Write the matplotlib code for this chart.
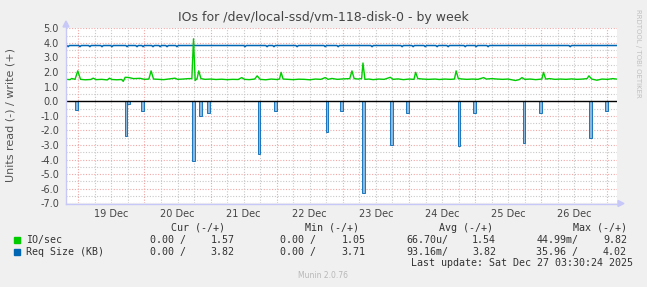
import matplotlib
matplotlib.use('Agg')
import matplotlib.pyplot as plt
from matplotlib.lines import Line2D
from matplotlib.patches import Rectangle, Polygon

# ---------------- data (hours from 19 Dec 00:00) ----------------
day_labels = ["19 Dec", "20 Dec", "21 Dec", "22 Dec", "23 Dec", "24 Dec", "25 Dec", "26 Dec"]

# IO/sec write (+)
io_write_h = [-4.4, -3.0, -2.4, -1.2, -0.2, 0.8, 2.5, 4.5, 5.4, 6.5, 8.5, 10.5, 11.3, 12.2, 14.0,
              15.7, 16.3, 17.0, 18.2, 20.0, 22.4, 24.0, 25.6, 26.4, 27.3, 29.0, 31.0, 33.0, 35.1,
              36.0, 38.0, 40.0, 41.2, 41.8, 42.4, 43.1, 43.7, 44.5, 46.0, 48.0, 50.0, 52.0, 54.0,
              56.0, 58.0, 59.3, 60.3, 62.0, 64.0, 64.9, 66.0, 68.0, 70.0, 72.0, 73.0, 73.6, 74.3,
              76.0, 78.0, 80.0, 82.0, 84.0, 86.0, 88.0, 89.6, 90.6, 92.0, 94.0, 96.0, 98.5, 99.3,
              100.1, 101.5, 102.8, 103.3, 104.0, 105.5, 107.0, 109.0, 111.0, 113.2, 114.2, 116.0,
              118.0, 120.0, 121.8, 122.4, 123.2, 125.0, 127.0, 129.5, 131.0, 133.0, 135.0, 136.5,
              137.1, 137.9, 139.5, 141.0, 143.0, 145.0, 147.1, 148.0, 150.0, 152.0, 154.0, 156.0,
              158.6, 160.0, 161.0, 162.0, 164.0, 166.0, 168.2, 168.8, 169.6, 171.0, 173.0, 175.0,
              177.0, 179.0, 181.0, 183.0, 184.6, 185.3, 186.3, 188.2, 190.0, 192.0, 194.0, 195.2]
io_write_v = [1.50, 1.48, 1.56, 1.50, 2.08, 1.50, 1.47, 1.49, 1.58, 1.48, 1.50, 1.46, 1.58, 1.49, 1.47,
              1.49, 1.36, 1.64, 1.63, 1.55, 1.57, 1.50, 1.52, 2.08, 1.52, 1.50, 1.48, 1.53, 1.58,
              1.50, 1.52, 1.55, 1.55, 4.28, 1.42, 1.55, 2.08, 1.55, 1.50, 1.52, 1.49, 1.51, 1.48,
              1.50, 1.49, 1.62, 1.50, 1.48, 1.52, 1.74, 1.50, 1.47, 1.52, 1.49, 1.52, 1.98, 1.52,
              1.50, 1.48, 1.51, 1.50, 1.47, 1.52, 1.50, 1.62, 1.50, 1.56, 1.50, 1.53, 1.55, 2.08,
              1.55, 1.52, 1.55, 2.62, 1.50, 1.52, 1.48, 1.52, 1.50, 1.64, 1.50, 1.53,
              1.48, 1.52, 1.50, 1.98, 1.55, 1.52, 1.50, 1.52, 1.49, 1.52, 1.50, 1.52,
              2.08, 1.55, 1.52, 1.50, 1.52, 1.50, 1.62, 1.52, 1.55, 1.52, 1.50, 1.52,
              1.42, 1.48, 1.62, 1.50, 1.52, 1.48, 1.52, 1.98, 1.52, 1.55, 1.50, 1.52,
              1.50, 1.53, 1.50, 1.52, 1.55, 1.74, 1.52, 1.44, 1.52, 1.50, 1.55, 1.52]

# Req Size write (+): baseline and small dips
req_write_base = 3.82
req_write_dip_h = [-3.7, 0.6, 4.2, 8.6, 12.2, 17.7, 21.3, 23.5, 27.1, 29.7, 32.2, 35.8, 60.5, 68.5,
                   71.0, 79.4, 89.6, 94.3, 106.6, 117.5, 121.5, 125.9, 130.2, 134.2, 140.4, 144.4,
                   148.7, 178.5]
req_write_dip_v = [3.74] * len(req_write_dip_h)

# Req Size read (-): spikes
req_read_h = [-0.7, 17.3, 18.2, 23.3, 41.8, 44.4, 47.3, 65.6, 71.5, 90.2, 95.5, 103.5, 113.7, 119.5,
              138.1, 143.7, 161.7, 167.7, 185.8, 191.7]
req_read_v = [-0.6, -2.4, -0.2, -0.65, -4.1, -1.0, -0.8, -3.6, -0.7, -2.1, -0.7, -6.3, -3.0, -0.8,
              -3.1, -0.8, -2.85, -0.8, -2.55, -0.7]

legend_rows = [
    ("IO/sec", "#00cc00", ["0.00 /", "1.57", "0.00 /", "1.05", "66.70u/", "1.54", "44.99m/", "9.82"]),
    ("Req Size (KB)", "#0066b3", ["0.00 /", "3.82", "0.00 /", "3.71", "93.16m/", "3.82", "35.96 /", "4.02"]),
]
headers = ["Cur (-/+)", "Min (-/+)", "Avg (-/+)", "Max (-/+)"]

# ---------------- figure ----------------
W, H = 647, 287
fig = plt.figure(figsize=(W / 100, H / 100), dpi=100)
fig.patch.set_facecolor('#f0f0f0')

L, R, T, B = 66, 616.5, 28.3, 203.3
ax = fig.add_axes([L / W, 1 - B / H, (R - L) / W, (B - T) / H])
ax.set_facecolor('white')
xmin, xmax = -4.47, 195.3
ax.set_xlim(xmin, xmax)
ax.set_ylim(-7, 5)
for s in ax.spines.values():
    s.set_visible(False)

dot = (0, (1, 1.5))
# grid
for k in range(-14, 11):
    y = k / 2
    if k % 2 == 0:
        ax.axhline(y, color='#f2a7a7', lw=0.8, ls=dot, zorder=1)
    else:
        ax.axhline(y, color='#c8c8c8', lw=0.8, ls=dot, zorder=1)
for hh in range(0, 196, 6):
    if hh % 24 == 0:
        ax.axvline(hh, color='#f2a7a7', lw=0.8, ls=dot, zorder=1)
    else:
        ax.axvline(hh, color='#c8c8c8', lw=0.8, ls=dot, zorder=1)

# read spikes (negative)
ax.bar(req_read_h, req_read_v, width=0.95, color='#8ab8de', edgecolor='#0066b3',
       linewidth=0.6, zorder=3)

# Req Size write line
bx, by = [xmin], [req_write_base]
for h, v in zip(req_write_dip_h, req_write_dip_v):
    bx += [h - 0.45, h, h + 0.45]
    by += [req_write_base, v, req_write_base]
bx.append(xmax); by.append(req_write_base)
ax.plot(bx, by, color='#0066b3', lw=1.1, zorder=4)

# IO/sec write line
ax.plot(io_write_h, io_write_v, color='#00cc00', lw=1.0, zorder=4)

# zero line
ax.axhline(0, color='black', lw=1.0, zorder=5)

ax.set_yticks(range(-7, 6))
ax.set_yticklabels([f"{v:.1f}" for v in range(-7, 6)])
ax.set_xticks([12 + 24 * i for i in range(len(day_labels))])
ax.set_xticklabels(day_labels)
ax.tick_params(axis='both', length=0, labelsize=7, colors='#444444')
ax.tick_params(axis='y', pad=5)
ax.tick_params(axis='x', pad=4)

# axis lines with arrows
acol = '#c8c8f8'
fig.add_artist(Line2D([L / W, L / W], [1 - 204 / H, 1 - 24 / H], color=acol, lw=1))
fig.add_artist(Line2D([L / W, 620 / W], [1 - 203.5 / H, 1 - 203.5 / H], color=acol, lw=1))
fig.add_artist(Polygon([[(L - 3) / W, 1 - 27 / H], [(L + 3) / W, 1 - 27 / H], [L / W, 1 - 21 / H]],
                       closed=True, color=acol))
fig.add_artist(Polygon([[618 / W, 1 - 200.5 / H], [618 / W, 1 - 206.5 / H], [624 / W, 1 - 203.5 / H]],
                       closed=True, color=acol))

# texts
fig.text(323.5 / W, 1 - 18 / H, "IOs for /dev/local-ssd/vm-118-disk-0 - by week",
         ha='center', va='center', fontsize=9.0, color='#444444')
fig.text(11 / W, 1 - 115 / H, "Units read (-) / write (+)", rotation=90,
         ha='center', va='center', fontsize=8.0, color='#555555')
fig.text(638 / W, 1 - 53 / H, "RRDTOOL / TOBI OETIKER", rotation=270,
         ha='center', va='center', fontsize=5, color='#c0c0c0')
fig.text(323 / W, 1 - 276 / H, "Munin 2.0.76", ha='center', va='center',
         fontsize=5.5, color='#b8b8b8')

mono = dict(family='DejaVu Sans Mono', fontsize=7.2, color='#333333', va='center')
hdr_right = [225, 359, 493, 627]
for x, t in zip(hdr_right, headers):
    fig.text(x / W, 1 - 228 / H, t, ha='right', **mono)
col_right = [186, 234.7, 316, 365.7, 448, 496, 578.5, 627]
row_y = [240, 252]
for (name, col, vals), y in zip(legend_rows, row_y):
    fig.add_artist(Rectangle((14 / W, 1 - (y + 3) / H), 6 / W, 6 / H, color=col,
                             transform=fig.transFigure))
    fig.text(26 / W, 1 - y / H, name, ha='left', **mono)
    for x, t in zip(col_right, vals):
        fig.text(x / W, 1 - y / H, t, ha='right', **mono)
fig.text(633 / W, 1 - 263.5 / H, "Last update: Sat Dec 27 03:30:24 2025", ha='right', **mono)

fig.savefig('out.png', dpi=100, facecolor=fig.get_facecolor())
